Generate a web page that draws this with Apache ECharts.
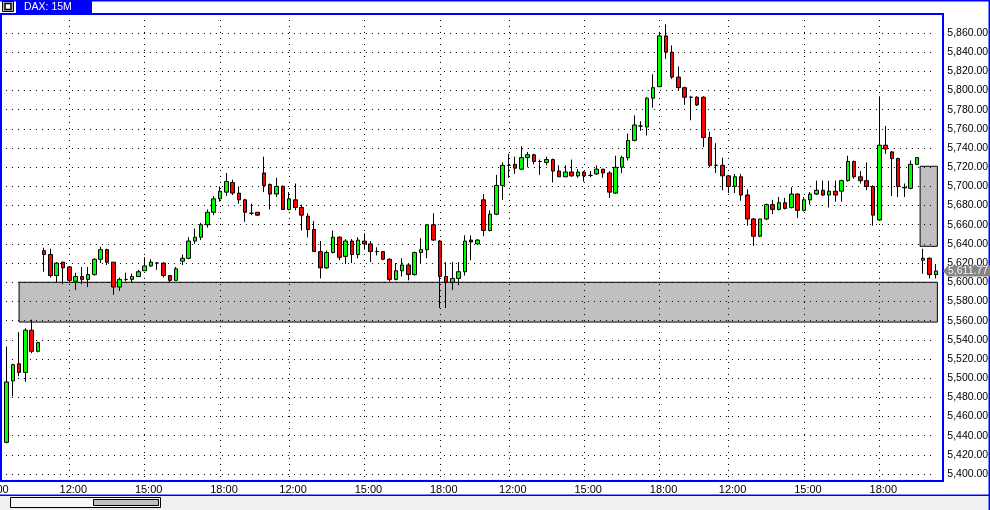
<!DOCTYPE html>
<html><head><meta charset="utf-8">
<script src="https://cdn.jsdelivr.net/npm/echarts@6/dist/echarts.min.js"></script>
<style>html,body{margin:0;padding:0;background:#fff;overflow:hidden}#c{width:990px;height:510px}</style>
</head><body><div id="c"></div>
<script>
// ---- data ----
const title = 'DAX: 15M';
const sessions = [['09:00','20:15'],['11:45','20:15'],['11:45','20:15'],['11:45','20:15']];
const labelTimes = ['09:00','12:00','15:00','18:00'];
const yTicks = [5400,5420,5440,5460,5480,5500,5520,5540,5560,5580,5600,5620,5640,5660,5680,5700,5720,5740,5760,5780,5800,5820,5840,5860];
const open  = [5433,5497,5515,5506,5550,5528,5633,5629,5607,5621,5616,5601,5606,5603,5608,5624,5634,5621,5595,5603,5603,5606,5612,5617,5620,5620,5607,5602,5622,5625,
               5643,5647,5660,5673,5687,5694,5704,5693,5686,5672,5673,5714,5702,5692,5700,5676,5686,5678,5669,5655,5632,5615,5631,5647,5627,5643,5629,5643,5640,5632,
               5632,5624,5603,5612,5618,5608,5631,5634,5660,5643,5606,5600,5604,5611,5644,5640,5686,5654,5671,5701,5722,5723,5718,5730,5733,5726,5725,5728,5716,5710,
               5715,5711,5715,5711.5,5713,5718,5714,5693,5720,5730,5748,5763,5762,5792,5804,5857,5840,5814,5803,5793,5793,5793,5751,5722,5722,5711,5700,5710,5691,5666,
               5648,5666,5681,5676,5683,5678,5692,5675,5686,5692,5696,5691,5695,5695,5706,5726,5710,5706,5700,5665,5743,5736,5729,5699,5698,5723,5623,5625,5608];
const high  = [5533,5515,5548,5552,5561,5538,5636,5635,5621,5621,5616,5610,5616,5616,5625,5637,5635,5621,5605,5610,5609,5613,5626,5624,5621,5621,5607,5616,5629,5647,
               5656,5662,5676,5690,5700,5714,5707,5700,5687,5682,5673,5731,5703,5709,5701,5694,5703,5681,5672,5664,5643,5633,5654,5648,5645,5645,5647,5651,5643,5636.5,
               5632,5625,5620,5625,5619,5632,5646,5660,5672,5644,5621,5621,5621,5649,5649,5645,5692,5675,5712,5725,5734,5731,5742,5736,5734,5728,5731,5729,5722,5722,
               5728,5718,5716,5716,5722,5718,5716,5732,5732,5755,5774,5768,5793,5817,5860,5869,5847,5825,5804,5794,5794,5794,5757,5745,5730,5712,5713,5713,5697,5667,
               5666,5682,5686,5689,5688,5699,5693,5689,5694,5706,5706,5706,5706,5707,5732,5727,5716,5725,5701,5794,5763,5737,5730,5703,5727,5730,5635,5626,5619];
const low   = [5432,5481,5502,5496,5526,5527,5611,5605,5600,5598,5600,5592,5598,5595,5607,5620,5618,5587,5591,5601,5600,5606,5612,5616,5613,5605,5600,5602,5618,5624,
               5640,5644,5657,5670,5684,5690,5691,5682,5663,5670,5669,5694,5676,5689,5676,5675,5675,5654,5647,5632,5604,5614,5630,5623,5619,5620,5625,5634,5621,5628,
               5623,5601,5602,5606,5602,5607,5619,5625,5643,5573,5573,5592,5597,5607,5623,5639,5648,5653,5670,5686,5709,5713,5717,5720,5723,5712,5722,5704,5710,5710,
               5710,5709,5705,5709.5,5712,5709,5688,5692,5714,5727,5747,5758,5753,5782,5804,5833,5812,5800,5785,5769,5784,5741,5720,5714,5696,5693,5693,5685,5659,5638,
               5647,5665,5671,5675,5676,5677,5667,5674,5681,5691,5690,5678,5684,5684,5705,5708,5703,5696,5659,5664,5734,5690,5689,5689,5697,5723,5609,5604,5604];
const close = [5496,5514,5506,5550,5528,5537,5629,5607,5620,5615,5602,5606,5603,5608,5624,5634,5621,5595,5603,5603,5606,5611,5617,5621,5620,5607,5602,5614,5625,5643,
               5647,5660,5673,5687,5695,5705,5693,5686,5673,5672,5670,5701,5692,5700,5676,5687,5678,5670,5655,5632,5615,5631,5647,5626,5643,5629,5644,5640,5632,5632,
               5624,5603,5612,5618,5608,5631,5634,5660,5644,5606,5600,5604,5611,5643,5642,5644,5654,5671,5701,5722,5722,5719,5730,5733,5726,5726,5728,5716,5710,5715,
               5711,5715,5711,5711.5,5718,5714,5694,5720,5730,5748,5764,5763,5792,5803,5857,5840,5814,5803,5793,5793,5785,5751,5722,5722,5711,5700,5710,5691,5666,5648,
               5666,5681,5676,5683,5677,5692,5675,5686,5692,5696,5691,5695,5691,5706,5726,5710,5706,5700,5670,5743,5739,5729,5700,5698.5,5723,5730,5625,5608,5611.77];
// gray zones: bar-index range and price range
const zones = [
  {from: 2, to: 148.25, low: 5558.5, high: 5600},
  {from: 145.5, to: 148.25, low: 5637.5, high: 5721}
];

// ---- build ----
function toMin(t){const p=t.split(':');return +p[0]*60 + +p[1];}
function pad(n){return (n<10?'0':'')+n;}
const categories = [];
sessions.forEach((s, d) => {
  for (let m = toMin(s[0]); m <= toMin(s[1]); m += 15) {
    categories.push('D' + (d+1) + ' ' + pad(Math.floor(m/60)) + ':' + pad(m%60));
  }
});
const lead = categories.length - open.length;
const candles = categories.map((c, k) => k < lead ? '-' :
  [open[k-lead], close[k-lead], low[k-lead], high[k-lead]]);
const isLabel = (idx, val) => labelTimes.indexOf(String(val).slice(-5)) >= 0;
const fmtY = v => v.toLocaleString('en-US', {minimumFractionDigits: 2, maximumFractionDigits: 2});
const FONT = "'Liberation Sans', Arial, sans-serif";
const BLUE = '#0000ff';

const chart = echarts.init(document.getElementById('c'), null, {renderer: 'canvas'});
chart.setOption({
  animation: false,
  backgroundColor: '#ffffff',
  grid: {left: -6.05, right: 54.2, top: 14, bottom: 29, containLabel: false, outerBoundsMode: 'none'},
  xAxis: {
    type: 'category', data: categories, boundaryGap: false, z: 1,
    axisLine: {show: false}, axisTick: {show: false},
    axisLabel: {interval: isLabel, formatter: v => v.slice(-5).replace(/^0/, ''),
      color: '#000', fontSize: 11, fontFamily: FONT, margin: 3, padding: [0, 0, 0, 8],
      showMinLabel: true},
    splitLine: {show: true, interval: isLabel, lineStyle: {color: '#000', width: 1, type: [1, 5]}}
  },
  yAxis: {
    type: 'value', position: 'right', min: 5392.7, max: 5879.82, scale: true, z: 1,
    axisLine: {show: false},
    axisTick: {show: false, customValues: yTicks},
    axisLabel: {customValues: yTicks, formatter: fmtY, color: '#000', fontSize: 10.5, fontFamily: FONT, margin: 11.5},
    splitLine: {show: true, lineStyle: {color: '#000', width: 1, type: [1, 5]}}
  },
  series: [
    {
      type: 'custom', z: 0.5, silent: true, clip: false,
      renderItem: (params, api) => {
        const zn = zones[params.dataIndex];
        const f0 = zn.from + lead, f1 = zn.to + lead;
        const px = f => {
          const k = Math.floor(f);
          const a = api.coord([k, zn.high])[0];
          const b = api.coord([k + 1, zn.high])[0];
          return a + (f - k) * (b - a);
        };
        const x0 = px(f0), x1 = px(f1);
        const yTop = api.coord([0, zn.high])[1];
        const yBot = api.coord([0, zn.low])[1];
        return {type: 'rect', shape: {x: x0, y: yTop, width: x1 - x0, height: yBot - yTop},
          style: {fill: '#c0c0c0', stroke: '#000', lineWidth: 1}};
      },
      data: zones.map(zn => [zn.from, zn.high])
    },
    {
      type: 'candlestick', z: 2, silent: true, clip: false,
      barWidth: 4,
      data: candles,
      itemStyle: {color: '#00ff00', color0: '#ff0000', borderColor: '#000', borderColor0: '#000',
        borderColorDoji: '#000', borderWidth: 1}
    }
  ]
});

const lastClose = close[close.length - 1];
const ly = chart.convertToPixel({yAxisIndex: 0}, lastClose);
chart.setOption({
  graphic: [
    {type: 'rect', z: 100, shape: {x: 0, y: 0, width: 990, height: 1.5}, style: {fill: BLUE}},
    {type: 'rect', z: 100, shape: {x: 16, y: 0, width: 76, height: 13.5}, style: {fill: BLUE}},
    {type: 'text', z: 101, x: 24, y: 7.5, style: {text: title, fill: '#fff', font: '10.5px ' + FONT, verticalAlign: 'middle'}},
    {type: 'rect', z: 100, shape: {x: 2.5, y: 1.5, width: 11, height: 10}, style: {fill: '#c0c0c0', stroke: '#000', lineWidth: 1}},
    {type: 'rect', z: 101, shape: {x: 5, y: 3.5, width: 6, height: 6}, style: {fill: '#fff', stroke: '#000', lineWidth: 1.5}},
    {type: 'rect', z: 100, shape: {x: 1, y: 14, width: 942, height: 467}, style: {fill: null, stroke: BLUE, lineWidth: 2}},
    {type: 'rect', z: 100, shape: {x: 988.5, y: 0, width: 1.5, height: 510}, style: {fill: BLUE}},
    {type: 'rect', z: 100, shape: {x: 0, y: 496, width: 988, height: 14}, style: {fill: '#f0f0f0'}},
    {type: 'rect', z: 100, shape: {x: 0, y: 494.5, width: 990, height: 1.5}, style: {fill: BLUE}},
    {type: 'rect', z: 101, shape: {x: 10.5, y: 497.5, width: 150, height: 10}, style: {fill: '#f8f8f8', stroke: '#000', lineWidth: 1}},
    {type: 'rect', z: 102, shape: {x: 93.5, y: 499.5, width: 65, height: 6}, style: {fill: '#c0c0c0', stroke: '#000', lineWidth: 1}},
    {type: 'polygon', z: 110, shape: {points: [[943, ly], [948, ly - 5.5], [990, ly - 5.5], [990, ly + 5.5], [948, ly + 5.5]]}, style: {fill: '#858585'}},
    {type: 'text', z: 111, x: 948, y: ly + 0.5, style: {text: fmtY(lastClose), fill: '#f4f4f4', font: '10.5px ' + FONT, verticalAlign: 'middle'}}
  ]
});
</script></body></html>
